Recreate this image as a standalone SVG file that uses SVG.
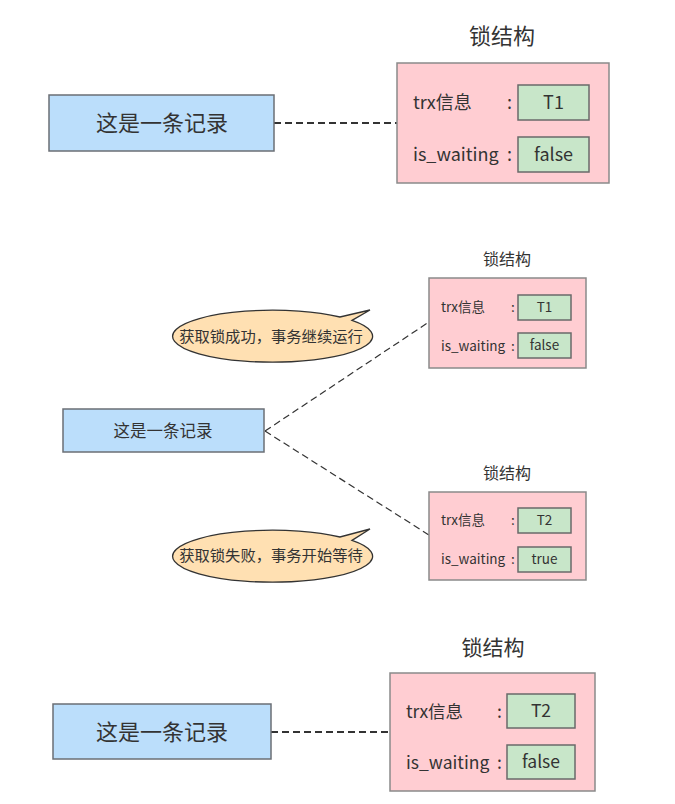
<svg xmlns="http://www.w3.org/2000/svg" width="675" height="804" viewBox="0 0 675 804">
<style>
text{font-family:"Noto Sans CJK SC","Noto Sans",sans-serif;fill:#333;dominant-baseline:central;transform:translateY(-2px)}
.c{text-anchor:middle}
.rec{fill:#BBDEFB;stroke:#6b6f75;stroke-width:1.5}
.lock{fill:#FFCDD2;stroke:#8a8a8a;stroke-width:1.5}
.val{fill:#C8E6C9;stroke:#6a6a6a;stroke-width:1.5}
.bub{fill:#FFE0B2;stroke:#333;stroke-width:1.3}
.dash{stroke:#333;fill:none;stroke-dasharray:7,4}
</style>
<g id="connectors">
<line class="dash" x1="274" y1="123" x2="397" y2="123" stroke-width="2"/>
<line class="dash" x1="265" y1="431" x2="429" y2="322" stroke-width="1.2" stroke-dasharray="5,4"/>
<line class="dash" x1="265" y1="431" x2="429" y2="535" stroke-width="1.2" stroke-dasharray="5,4"/>
<line class="dash" x1="271" y1="732" x2="390" y2="732" stroke-width="2"/>
</g>
<g id="record1">
<rect class="rec" x="49" y="95" width="225" height="56"/>
<text class="c" x="162" y="123" font-size="22">这是一条记录</text>
</g>
<g id="lock1">
<text class="c" x="502" y="36" font-size="22">锁结构</text>
<rect class="lock" x="397" y="63" width="212" height="120"/>
<text x="413" y="103" font-size="18">trx信息</text>
<text x="507" y="103" font-size="18">:</text>
<rect class="val" x="518" y="85" width="71" height="35"/>
<text class="c" x="553.5" y="102.5" font-size="18">T1</text>
<text x="413" y="155" font-size="18">is_waiting</text>
<text x="507" y="155" font-size="18">:</text>
<rect class="val" x="518" y="137" width="71" height="35"/>
<text class="c" x="553.5" y="154.5" font-size="18">false</text>
</g>
<g id="bubble1">
<path class="bub" d="M352,320.4 L370,310 L340,317 A100,26 0 1 0 352,320.4 Z"/>
<text class="c" x="271" y="337" font-size="15.3">获取锁成功，事务继续运行</text>
</g>
<g id="record2">
<rect class="rec" x="63" y="409" width="201" height="43"/>
<text class="c" x="163" y="432" font-size="16.5">这是一条记录</text>
</g>
<g id="lock2">
<text class="c" x="507" y="260" font-size="16">锁结构</text>
<rect class="lock" x="429" y="278" width="157" height="90"/>
<text x="441" y="308" font-size="13.5">trx信息</text>
<text x="511" y="308" font-size="13.5">:</text>
<rect class="val" x="518" y="295" width="53" height="25"/>
<text class="c" x="544.5" y="307.5" font-size="13.5">T1</text>
<text x="441" y="347" font-size="13.5">is_waiting</text>
<text x="511" y="347" font-size="13.5">:</text>
<rect class="val" x="518" y="333" width="53" height="25"/>
<text class="c" x="544.5" y="345.5" font-size="13.5">false</text>
</g>
<g id="bubble2">
<path class="bub" d="M352,540.4 L370,529 L340,537 A100,26 0 1 0 352,540.4 Z"/>
<text class="c" x="271" y="556" font-size="15.3">获取锁失败，事务开始等待</text>
</g>
<g id="lock3">
<text class="c" x="507" y="474" font-size="16">锁结构</text>
<rect class="lock" x="429" y="492" width="157" height="88"/>
<text x="441" y="521" font-size="13.5">trx信息</text>
<text x="511" y="521" font-size="13.5">:</text>
<rect class="val" x="518" y="508" width="53" height="25"/>
<text class="c" x="544.5" y="520.5" font-size="13.5">T2</text>
<text x="441" y="560" font-size="13.5">is_waiting</text>
<text x="511" y="560" font-size="13.5">:</text>
<rect class="val" x="518" y="547" width="53" height="25"/>
<text class="c" x="544.5" y="559.5" font-size="13.5">true</text>
</g>
<g id="record3">
<rect class="rec" x="53" y="704" width="218" height="55"/>
<text class="c" x="162" y="732" font-size="22">这是一条记录</text>
</g>
<g id="lock4">
<text class="c" x="493" y="648" font-size="21">锁结构</text>
<rect class="lock" x="390" y="673" width="205" height="118"/>
<text x="406" y="712" font-size="17.5">trx信息</text>
<text x="497" y="712" font-size="17.5">:</text>
<rect class="val" x="507" y="694" width="68" height="34"/>
<text class="c" x="541" y="711" font-size="17.5">T2</text>
<text x="406" y="763" font-size="17.5">is_waiting</text>
<text x="497" y="763" font-size="17.5">:</text>
<rect class="val" x="507" y="745" width="68" height="34"/>
<text class="c" x="541" y="762" font-size="17.5">false</text>
</g>
</svg>
